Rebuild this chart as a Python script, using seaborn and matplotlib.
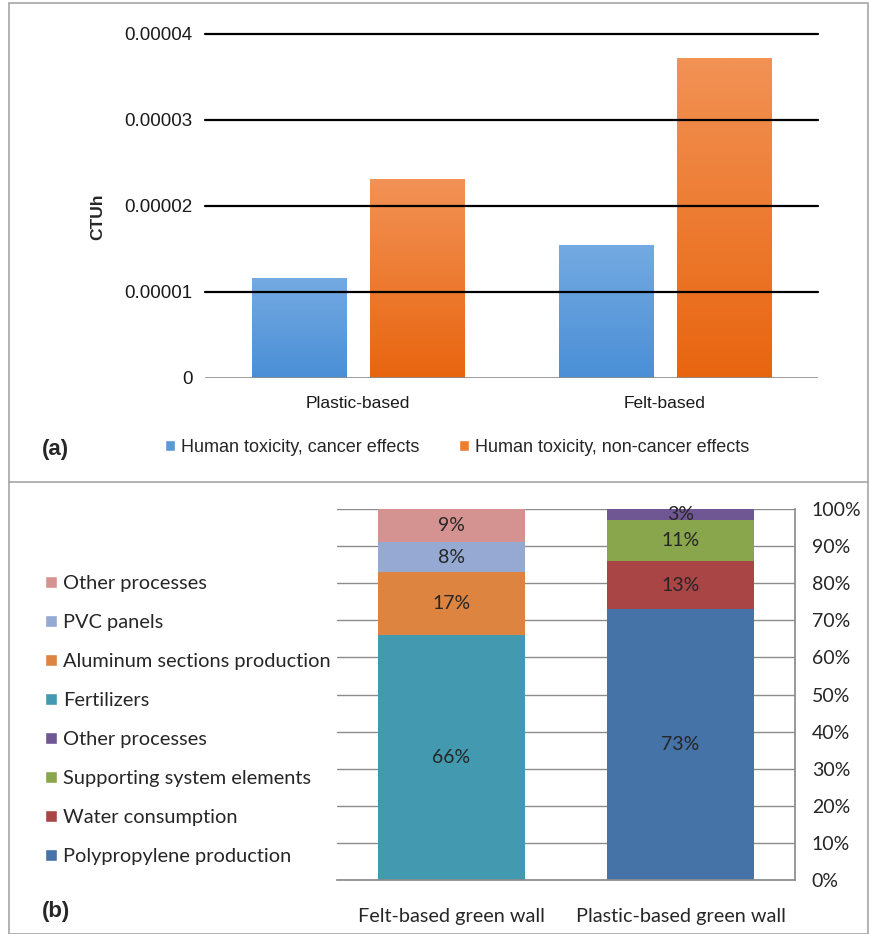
import numpy as np
import pandas as pd
import matplotlib
matplotlib.use("Agg")
import matplotlib.pyplot as plt
from matplotlib.patches import Patch, Rectangle
from matplotlib.lines import Line2D
import seaborn as sns

# --- data, panel (a) ---
walls_a = ["Plastic-based", "Felt-based"]
impacts = ["Human toxicity, cancer effects", "Human toxicity, non-cancer effects"]
cancer = [0.0000116, 0.0000155]
non_cancer = [0.0000231, 0.0000372]
yticks_a = [0, 0.00001, 0.00002, 0.00003, 0.00004]
ytick_labels_a = ["0", "0.00001", "0.00002", "0.00003", "0.00004"]

# --- data, panel (b) ---
walls_b = ["Felt-based green wall", "Plastic-based green wall"]
felt_parts = ["Fertilizers", "Aluminum sections production", "PVC panels", "Other processes"]
felt_share = [66, 17, 8, 9]
plastic_parts = ["Polypropylene production", "Water consumption", "Supporting system elements", "Other processes"]
plastic_share = [73, 13, 11, 3]

felt_colors = ["#4399b0", "#dd8540", "#95a9d2", "#d49391"]
plastic_colors = ["#4572a7", "#a94545", "#8aa64d", "#6f5793"]

sns.set_theme(style="white")
plt.rcParams['font.family'] = ['Liberation Sans', 'DejaVu Sans']
narrow = ['Liberation Sans Narrow', 'Liberation Sans']
calib = ["Lato", "DejaVu Sans"]

fig = plt.figure(figsize=(8.7, 9.34), dpi=100)

# outer frame and divider
fig.patches.append(Rectangle((9 / 870, 0), 859 / 870, 1 - 3 / 934, transform=fig.transFigure,
                             fill=False, edgecolor="#a6a6a6", lw=1.2))
fig.lines.append(Line2D([9 / 870, 868 / 870], [1 - 482 / 934, 1 - 482 / 934],
                        transform=fig.transFigure, color="#a6a6a6", lw=1.2))

# ---------------- panel (a) ----------------
ax1 = fig.add_axes([205 / 870, 1 - 378 / 934, 613 / 870, 344 / 934])
df_a = pd.DataFrame({
    "wall": walls_a * 2,
    "impact": [impacts[0]] * 2 + [impacts[1]] * 2,
    "value": cancer + non_cancer,
})
blue, orange = "#5b9bd5", "#ed7d31"
sns.barplot(data=df_a, x="wall", y="value", hue="impact", palette=[blue, orange],
            width=0.77, gap=0.2, ax=ax1, legend=False, linewidth=0, saturation=1)

# gradient fill on bars
grads = [("#4a8fd6", "#74aae2"), ("#e8650f", "#f29255")]
for i, p in enumerate(list(ax1.patches)):
    bot_c, top_c = grads[i // 2]
    x0, y0 = p.get_x(), p.get_y()
    w, h = p.get_width(), p.get_height()
    cmap = matplotlib.colors.LinearSegmentedColormap.from_list("g", [bot_c, top_c])
    grad = np.linspace(0, 1, 256).reshape(-1, 1)
    im = ax1.imshow(grad, cmap=cmap, aspect="auto", origin="lower",
                    extent=[x0, x0 + w, y0, y0 + h], zorder=2)
    im.set_clip_path(p)
ax1.set_xlim(-0.5, 1.5)
ax1.set_ylim(0, 0.00004)
ax1.set_yticks(yticks_a)
ax1.set_yticklabels(ytick_labels_a, fontsize=13.5, color="#1a1a1a")
for v in yticks_a[1:]:
    ax1.axhline(v, color="black", lw=1.6, zorder=3, clip_on=False)
ax1.axhline(0, color="#8c8c8c", lw=1.2, zorder=3)
for s in ax1.spines.values():
    s.set_visible(False)
ax1.tick_params(axis="y", length=0, pad=9)
ax1.tick_params(axis="x", length=0, pad=13)
for t in ax1.get_xticklabels():
    t.set_fontsize(12.5)
    t.set_family(narrow)
    t.set_color("#1a1a1a")
ax1.set_xlabel("")
ax1.set_ylabel("CTUh", fontsize=12.5, fontweight="bold")
ax1.yaxis.set_label_coords(-100 / 613, 0.47)

leg_a = [Patch(facecolor=blue, label=impacts[0]), Patch(facecolor=orange, label=impacts[1])]
fig.legend(handles=leg_a, loc="center", bbox_to_anchor=(457 / 870, 1 - 447 / 934), ncol=2,
           frameon=False, handlelength=0.55, handleheight=0.55, handletextpad=0.35,
           columnspacing=2.2, prop={"family": narrow, "size": 13})
fig.text(42 / 870, 1 - 450 / 934, "(a)", fontsize=16, fontweight="bold", va="center",
         family=narrow)

# ---------------- panel (b) ----------------
ax2 = fig.add_axes([337 / 870, 1 - 880 / 934, 458 / 870, 371 / 934])
rows = []
for lvl in range(4):
    rows.append({"wall": walls_b[0], "level": lvl, "share": felt_share[lvl],
                 "top": sum(felt_share[:lvl + 1])})
    rows.append({"wall": walls_b[1], "level": lvl, "share": plastic_share[lvl],
                 "top": sum(plastic_share[:lvl + 1])})
df_b = pd.DataFrame(rows)

for lvl in range(3, -1, -1):
    sub = df_b[df_b["level"] == lvl]
    sns.barplot(data=sub, x="wall", y="top", hue="wall", order=walls_b, hue_order=walls_b,
                palette=[felt_colors[lvl], plastic_colors[lvl]], width=0.64, saturation=1,
                legend=False, ax=ax2, linewidth=0, zorder=2)

for _, r in df_b.iterrows():
    xi = walls_b.index(r["wall"])
    yc = r["top"] - r["share"] / 2
    ax2.text(xi, yc, f"{r['share']}%", ha="center", va="center", fontsize=14,
             color="#262626", family=calib, zorder=4)

ax2.set_xlim(-0.5, 1.5)
ax2.set_ylim(0, 100)
ax2.yaxis.tick_right()
ax2.set_yticks(range(0, 101, 10))
ax2.set_yticklabels([f"{v}%" for v in range(0, 101, 10)], fontsize=14,
                    family=calib, color="#262626")
ax2.tick_params(axis="y", length=0, pad=12)
ax2.tick_params(axis="x", length=0, pad=20)
for t in ax2.get_xticklabels():
    t.set_fontsize(14.3)
    t.set_family(calib)
    t.set_color("#262626")
ax2.grid(axis="y", color="#8c8c8c", lw=1.0, zorder=0)
ax2.set_axisbelow(True)
for k, s in ax2.spines.items():
    s.set_visible(k in ("right", "bottom"))
    s.set_color("#8c8c8c")
ax2.set_xlabel("")
ax2.set_ylabel("")

legend_labels = felt_parts[::-1] + plastic_parts[::-1]
legend_colors = felt_colors[::-1] + plastic_colors[::-1]
leg_b = [Patch(facecolor=c, label=l) for c, l in zip(legend_colors, legend_labels)]
fig.legend(handles=leg_b, loc="upper left", bbox_to_anchor=(27 / 870, 1 - 557 / 934),
           frameon=False, handlelength=0.6, handleheight=0.6, handletextpad=0.3,
           labelspacing=1.1, prop={"family": calib, "size": 14.4})
fig.text(42 / 870, 1 - 912 / 934, "(b)", fontsize=16, fontweight="bold", va="center",
         family=narrow)

fig.savefig("out.png", dpi=100)
